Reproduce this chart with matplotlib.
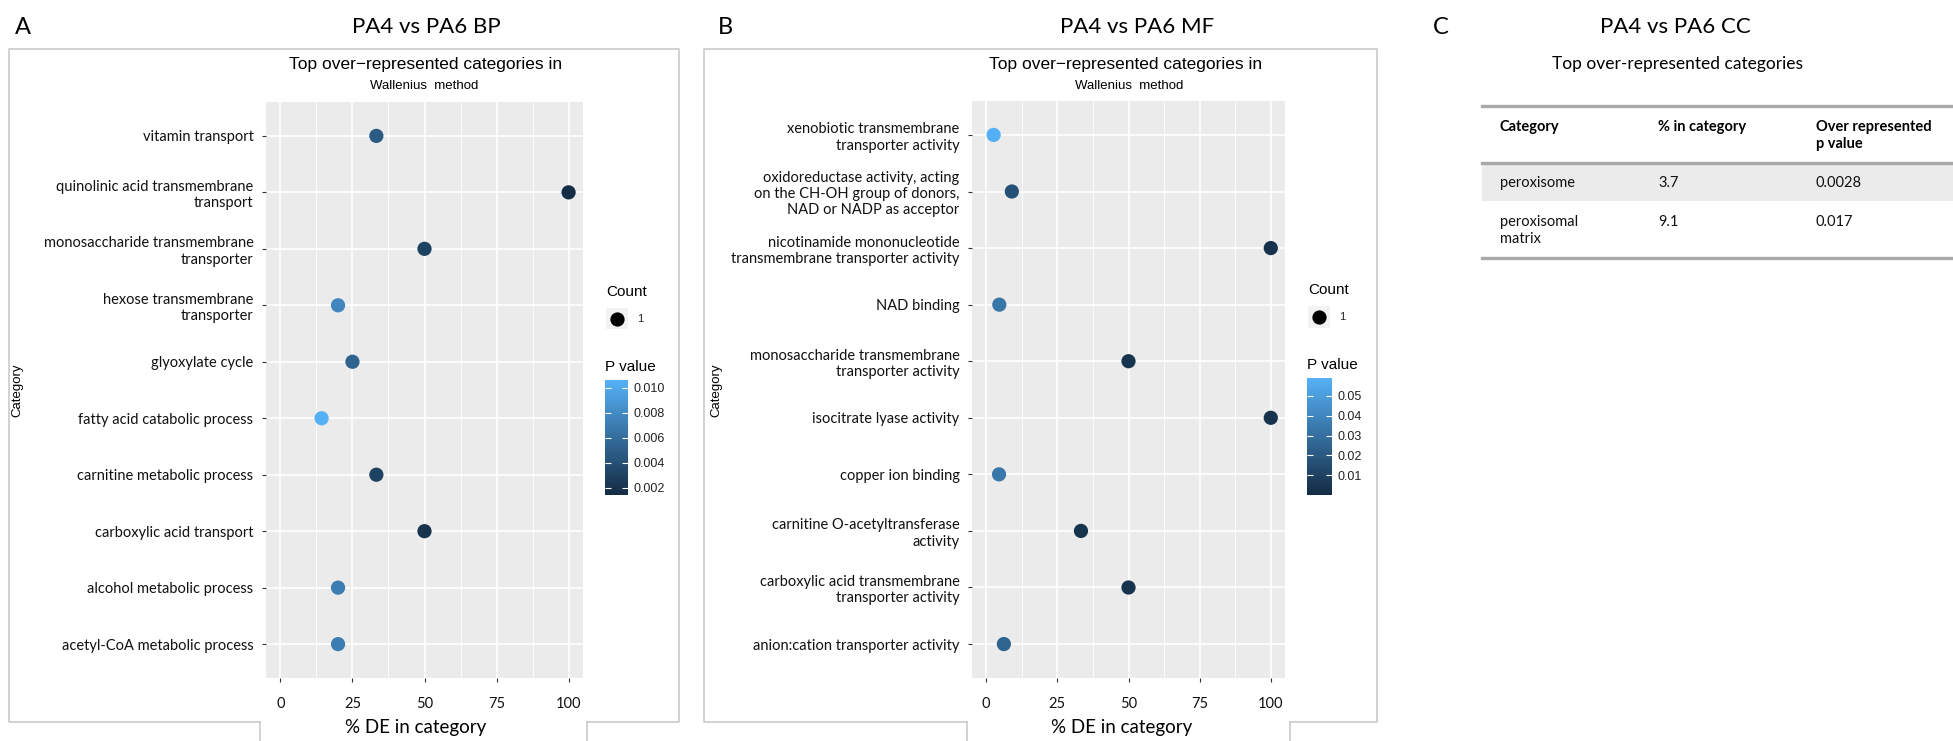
import numpy as np
import matplotlib
matplotlib.use("Agg")
import matplotlib.pyplot as plt
from matplotlib.colors import LinearSegmentedColormap, Normalize
from matplotlib.lines import Line2D
from matplotlib.patches import Rectangle

# ---- data ----
bp_terms = ["vitamin transport",
            "quinolinic acid transmembrane\ntransport",
            "monosaccharide transmembrane\ntransporter",
            "hexose transmembrane\ntransporter",
            "glyoxylate cycle",
            "fatty acid catabolic process",
            "carnitine metabolic process",
            "carboxylic acid transport",
            "alcohol metabolic process",
            "acetyl-CoA metabolic process"]
bp_pct = [33.3, 100, 50, 20, 25, 14.3, 33.3, 50, 20, 20]
bp_pval = [0.0047, 0.0016, 0.0030, 0.0077, 0.0053, 0.0106, 0.0030, 0.0020, 0.0071, 0.0071]
bp_count = [1] * 10

mf_terms = ["xenobiotic transmembrane\ntransporter activity",
            "oxidoreductase activity, acting\non the CH-OH group of donors,\nNAD or NADP as acceptor",
            "nicotinamide mononucleotide\ntransmembrane transporter activity",
            "NAD binding",
            "monosaccharide transmembrane\ntransporter activity",
            "isocitrate lyase activity",
            "copper ion binding",
            "carnitine O-acetyltransferase\nactivity",
            "carboxylic acid transmembrane\ntransporter activity",
            "anion:cation transporter activity"]
mf_pct = [2.6, 9.0, 100, 4.6, 50, 100, 4.5, 33.3, 50, 6.2]
mf_pval = [0.058, 0.017, 0.003, 0.033, 0.004, 0.003, 0.034, 0.004, 0.004, 0.025]
mf_count = [1] * 10

cc_header = ["Category", "% in category", "Over represented\np value"]
cc_terms = ["peroxisome", "peroxisomal\nmatrix"]
cc_pct = ["3.7", "9.1"]
cc_pval = ["0.0028", "0.017"]

W, H = 1953, 741
CAL = "Lato"
HEL = "Liberation Sans"
cmap = LinearSegmentedColormap.from_list("gg", ["#132B43", "#56B1F7"])

fig = plt.figure(figsize=(W / 100, H / 100), dpi=100)
fig.patch.set_facecolor("white")


def add_ax(x0, y0, x1, y1):
    return fig.add_axes([x0 / W, 1 - y1 / H, (x1 - x0) / W, (y1 - y0) / H])


def ftext(x, y, s, **kw):
    kw.setdefault("va", "center")
    fig.text(x / W, 1 - y / H, s, **kw)


def fline(xs, ys, color="#c6c6c6", lw=1.1):
    fig.add_artist(Line2D([x / W for x in xs], [1 - y / H for y in ys],
                          color=color, lw=lw, transform=fig.transFigure))


def dot_panel(box, terms, pct, pval, vmin, vmax, ticks, tickfmt, cbar_box,
              key_box, xlab_x, cat_x):
    ax = add_ax(*box)
    ax.set_facecolor("#EBEBEB")
    n = len(terms)
    y = np.arange(n)
    ax.scatter(pct, y, c=pval, cmap=cmap, vmin=vmin, vmax=vmax, s=105,
               linewidths=0, zorder=3)
    ax.set_xlim(-5, 105)
    ax.set_ylim(n - 0.4, -0.6)
    ax.set_xticks([0, 25, 50, 75, 100])
    ax.set_xticks([12.5, 37.5, 62.5, 87.5], minor=True)
    ax.set_yticks(y)
    ax.set_yticklabels(terms, fontfamily=CAL, fontsize=10.5, color="#111111")
    ax.set_xticklabels(["0", "25", "50", "75", "100"], fontfamily=CAL,
                       fontsize=10.5, color="#111111")
    ax.grid(True, which="major", color="white", lw=1.2)
    ax.grid(True, which="minor", axis="x", color="white", lw=0.6)
    ax.set_axisbelow(True)
    for sp in ax.spines.values():
        sp.set_visible(False)
    ax.tick_params(axis="both", which="major", length=3, width=0.8,
                   color="#333333")
    ax.tick_params(axis="x", which="major", pad=11)
    ax.tick_params(axis="y", which="major", pad=6)
    ax.tick_params(which="minor", length=0)

    ftext(xlab_x, 728, "% DE in category", ha="center", fontfamily=CAL,
          fontsize=13.5, color="black")
    ftext(cat_x, 390, "Category", ha="center", rotation=90, fontfamily=HEL,
          fontsize=9.5, color="black")

    # colour bar
    cax = add_ax(*cbar_box)
    sm = plt.cm.ScalarMappable(norm=Normalize(vmin, vmax), cmap=cmap)
    cb = fig.colorbar(sm, cax=cax, ticks=ticks)
    cb.outline.set_visible(False)
    cb.ax.set_yticklabels([tickfmt % t for t in ticks], fontfamily=HEL,
                          fontsize=9, color="#222222")
    cax.tick_params(axis="y", left=True, right=True, direction="in",
                    color="white", length=4, width=0.8, pad=4)
    ftext(cbar_box[0], cbar_box[1] - 13, "P value", ha="left",
          fontfamily=HEL, fontsize=11, color="black")

    # count legend
    kx0, ky0, kx1, ky1 = key_box
    kax = add_ax(*key_box)
    kax.set_facecolor("#F2F2F2")
    kax.scatter([0], [0], s=105, color="black", linewidths=0)
    kax.set_xlim(-1, 1)
    kax.set_ylim(-1, 1)
    kax.set_xticks([])
    kax.set_yticks([])
    for sp in kax.spines.values():
        sp.set_visible(False)
    ftext(kx0, ky0 - 16, "Count", ha="left", fontfamily=HEL, fontsize=11,
          color="black")
    ftext(kx1 + 9, (ky0 + ky1) / 2, "1", ha="left", fontfamily=HEL,
          fontsize=8, color="#222222")
    return ax


# ---- panel A ----
ftext(15, 27, "A", ha="left", fontfamily=CAL, fontsize=17, color="black")
ftext(426, 27, "PA4 vs PA6 BP", ha="center", fontfamily=CAL, fontsize=16,
      color="black")
fline([260, 9, 9, 679, 679, 587], [722, 722, 49, 49, 722, 722])
fline([260, 260], [722, 741])
fline([587, 587], [722, 741])
ftext(426, 64, "Top over\u2212represented categories in", ha="center",
      fontfamily=HEL, fontsize=12.5, color="black")
ftext(424, 86, "Wallenius  method", ha="center", fontfamily=HEL, fontsize=9.5,
      color="black")
dot_panel((266, 102, 583, 678), bp_terms, bp_pct, bp_pval, 0.00144, 0.01064,
          [0.002, 0.004, 0.006, 0.008, 0.010], "%.3f",
          (605, 380, 628, 495), (606, 308, 628, 329), 416, 17)

# ---- panel B ----
ftext(718, 27, "B", ha="left", fontfamily=CAL, fontsize=17, color="black")
ftext(1137, 27, "PA4 vs PA6 MF", ha="center", fontfamily=CAL, fontsize=16,
      color="black")
fline([967, 704, 704, 1377, 1377, 1290], [722, 722, 49, 49, 722, 722])
fline([967, 967], [722, 741])
fline([1290, 1290], [722, 741])
ftext(1126, 64, "Top over\u2212represented categories in", ha="center",
      fontfamily=HEL, fontsize=12.5, color="black")
ftext(1129, 86, "Wallenius  method", ha="center", fontfamily=HEL, fontsize=9.5,
      color="black")
dot_panel((972, 101, 1285, 678), mf_terms, mf_pct, mf_pval, 0.0, 0.059,
          [0.01, 0.02, 0.03, 0.04, 0.05], "%.2f",
          (1307, 378, 1332, 495), (1308, 306, 1330, 328), 1122, 716)

# ---- panel C (table) ----
ftext(1433, 27, "C", ha="left", fontfamily=CAL, fontsize=17, color="black")
ftext(1675, 27, "PA4 vs PA6 CC", ha="center", fontfamily=CAL, fontsize=16,
      color="black")
ftext(1678, 64, "Top over-represented categories", ha="center",
      fontfamily=CAL, fontsize=12.5, color="black")
fig.add_artist(Rectangle((1482 / W, 1 - 201 / H), (W - 1482) / W, 38 / H,
                         transform=fig.transFigure, facecolor="#EBEBEB",
                         edgecolor="none"))
for yl in [106, 163, 258]:
    fline([1482, W], [yl, yl], color="#a8a8a8", lw=2.4)
col_x = [1500, 1658, 1816]
for cx, hd in zip(col_x, cc_header):
    ftext(cx, 120, hd, ha="left", va="top", fontfamily=CAL, fontsize=10.5,
          fontweight="bold", linespacing=1.25, color="black")
for i, (term, pc, pv) in enumerate(zip(cc_terms, cc_pct, cc_pval)):
    yr = [176, 215][i]
    ftext(col_x[0], yr, term, ha="left", va="top", fontfamily=CAL,
          fontsize=10.5, linespacing=1.25, color="#111111")
    ftext(col_x[1], yr, pc, ha="left", va="top", fontfamily=CAL,
          fontsize=10.5, color="#111111")
    ftext(col_x[2], yr, pv, ha="left", va="top", fontfamily=CAL,
          fontsize=10.5, color="#111111")

fig.savefig("out.png", dpi=100, facecolor="white")
